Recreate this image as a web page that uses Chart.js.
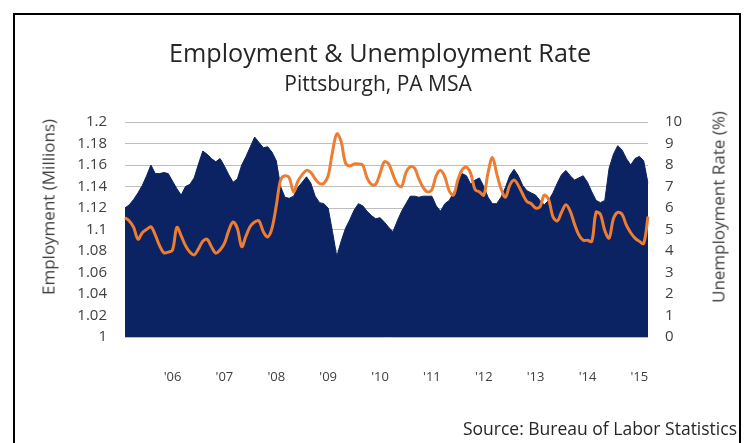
<!DOCTYPE html>
<html>
<head>
<meta charset="utf-8">
<script src="https://cdn.jsdelivr.net/npm/chart.js@4/dist/chart.umd.min.js"></script>
<style>
    body { margin: 0; background: #fff; font-family: "Open Sans", Lato, sans-serif; color: #262626; }
    #wrap { position: relative; width: 747px; height: 443px; overflow: hidden; }
    #frame { position: absolute; left: 13px; top: 13px; width: 724px; height: 460px; border: 2px solid #000; border-bottom: none; }
    canvas { position: absolute; left: 0; top: 0; }
    .txt { position: absolute; white-space: nowrap; line-height: 1; }
    #title { left: 0; width: 760px; top: 40px; text-align: center; font-size: 25.2px; }
    #subtitle { left: 0; width: 756px; top: 73px; text-align: center; font-size: 21px; }
    .axisTitle { font-size: 17px; color: #404040; transform: translate(-50%, -50%) rotate(-90deg); }
    #yTitle { left: 48px; top: 207px; }
    #y1Title { left: 718px; top: 207px; }
    #source { right: 10px; top: 420px; font-size: 17.5px; }
</style>
</head>
<body>
<div id="wrap">
    <div id="frame"></div>
    <canvas id="empChart" width="747" height="443"></canvas>
    <div class="txt" id="title">Employment &amp; Unemployment Rate</div>
    <div class="txt" id="subtitle">Pittsburgh, PA MSA</div>
    <div class="txt axisTitle" id="yTitle">Employment (Millions)</div>
    <div class="txt axisTitle" id="y1Title">Unemployment Rate (%)</div>
    <div class="txt" id="source">Source: Bureau of Labor Statistics</div>
</div>
<script>
// Monthly series, Feb 2005 - Mar 2015
const startYear = 2005;
const startMonth = 2;

// Total nonfarm employment (millions)
const employment = [
    1.120, 1.123, 1.128, 1.134, 1.141, 1.150, 1.160, 1.152, 1.152, 1.153,
    1.152, 1.145, 1.138, 1.132, 1.140, 1.142, 1.148, 1.161, 1.173, 1.170,
    1.166, 1.163, 1.166, 1.159, 1.151, 1.144, 1.147, 1.160, 1.168, 1.177,
    1.186, 1.181, 1.176, 1.177, 1.172, 1.164, 1.140, 1.130, 1.129, 1.131,
    1.139, 1.144, 1.149, 1.143, 1.131, 1.125, 1.124, 1.120, 1.098, 1.075,
    1.089, 1.101, 1.109, 1.118, 1.124, 1.122, 1.117, 1.113, 1.110, 1.111,
    1.107, 1.102, 1.098, 1.108, 1.117, 1.124, 1.131, 1.131, 1.130, 1.131,
    1.131, 1.131, 1.122, 1.117, 1.124, 1.127, 1.134, 1.143, 1.152, 1.150,
    1.142, 1.146, 1.148, 1.140, 1.130, 1.124, 1.124, 1.130, 1.139, 1.150,
    1.156, 1.150, 1.141, 1.136, 1.134, 1.132, 1.127, 1.123, 1.127, 1.134,
    1.143, 1.151, 1.155, 1.150, 1.146, 1.148, 1.150, 1.144, 1.135, 1.127,
    1.125, 1.127, 1.157, 1.170, 1.178, 1.174, 1.166, 1.160, 1.166, 1.168,
    1.164, 1.143
];

// Unemployment rate (%)
const unemployment = [
    5.55, 5.40, 5.10, 4.55, 4.85, 5.00, 5.13, 4.75, 4.25, 3.92,
    3.95, 4.05, 5.10, 4.70, 4.25, 3.95, 3.82, 4.10, 4.45, 4.55,
    4.20, 3.90, 4.05, 4.35, 4.95, 5.35, 5.05, 4.20, 4.70, 5.15,
    5.35, 5.40, 4.90, 4.65, 5.05, 6.10, 7.30, 7.50, 7.40, 6.75,
    7.25, 7.55, 7.75, 7.65, 7.35, 7.14, 7.15, 7.50, 8.60, 9.45,
    9.10, 8.10, 7.95, 8.05, 8.05, 8.00, 7.40, 7.10, 7.10, 7.60,
    8.15, 8.05, 7.55, 7.10, 7.00, 7.65, 7.92, 7.85, 7.35, 6.95,
    6.75, 6.85, 7.50, 7.75, 7.45, 6.80, 6.60, 7.30, 7.78, 7.90,
    7.60, 6.85, 6.75, 6.60, 7.65, 8.35, 7.60, 6.90, 6.50, 7.05,
    7.30, 7.05, 6.65, 6.30, 6.20, 6.00, 6.05, 6.60, 6.40, 5.60,
    5.40, 5.80, 6.15, 5.85, 5.25, 4.75, 4.50, 4.50, 4.45, 5.80,
    5.70, 4.95, 4.60, 5.50, 5.80, 5.70, 5.20, 4.85, 4.60, 4.45,
    4.35, 5.60
];

const yearLabels = ["'06", "'07", "'08", "'09", "'10", "'11", "'12", "'13", "'14", "'15"];

// one category per month, e.g. "2005-02"
const months = employment.map((_, i) => {
    const m = startMonth - 1 + i;
    const y = startYear + Math.floor(m / 12);
    return `${y}-${String(m % 12 + 1).padStart(2, '0')}`;
});

const fontFamily = '"Open Sans", Lato, sans-serif';
const tickFont = { family: fontFamily, size: 15 };
const gridColor = '#bdbdbd';

new Chart(document.getElementById('empChart').getContext('2d'), {
    type: 'line',
    data: {
        labels: months,
        datasets: [
            {
                label: 'Unemployment Rate',
                data: unemployment,
                yAxisID: 'y1',
                borderColor: '#ee7d31',
                borderWidth: 3,
                pointRadius: 0,
                tension: 0.35,
                fill: false,
                order: 0
            },
            {
                label: 'Employment',
                data: employment,
                yAxisID: 'y',
                borderColor: '#0b2362',
                backgroundColor: '#0b2362',
                borderWidth: 1,
                pointRadius: 0,
                tension: 0,
                fill: 'start',
                order: 1
            }
        ]
    },
    options: {
        responsive: false,
        animation: false,
        layout: { padding: { left: 0, right: 0, top: 122, bottom: 56 } },
        plugins: {
            legend: { display: false },
            tooltip: { enabled: false }
        },
        scales: {
            x: {
                grid: { display: false, drawTicks: false },
                border: { display: false },
                afterFit: s => { s.height = 50; },
                afterBuildTicks: axis => {
                    // one tick per January
                    axis.ticks = months
                        .map((m, i) => ({ value: i, m }))
                        .filter(t => t.m.endsWith('-01'))
                        .map(t => ({ value: t.value }));
                },
                ticks: {
                    autoSkip: false,
                    maxRotation: 0,
                    padding: 32,
                    color: '#404040',
                    font: { family: fontFamily, size: 13 },
                    callback: function (value) {
                        const yr = months[value].slice(2, 4);
                        return yearLabels.find(l => l === "'" + yr) || '';
                    }
                }
            },
            y: {
                position: 'left',
                min: 1,
                max: 1.2,
                afterFit: s => { s.width = 125; },
                grid: { color: gridColor, lineWidth: 1, drawTicks: false },
                border: { display: false },
                ticks: {
                    stepSize: 0.02,
                    autoSkip: false,
                    padding: 18,
                    color: '#404040',
                    font: tickFont,
                    callback: v => String(+v.toFixed(2))
                }
            },
            y1: {
                position: 'right',
                min: 0,
                max: 10,
                afterFit: s => { s.width = 99; },
                grid: { display: false, drawTicks: false },
                border: { display: false },
                ticks: {
                    stepSize: 1,
                    autoSkip: false,
                    padding: 17,
                    color: '#404040',
                    font: tickFont
                }
            }
        }
    }
});
</script>
</body>
</html>
